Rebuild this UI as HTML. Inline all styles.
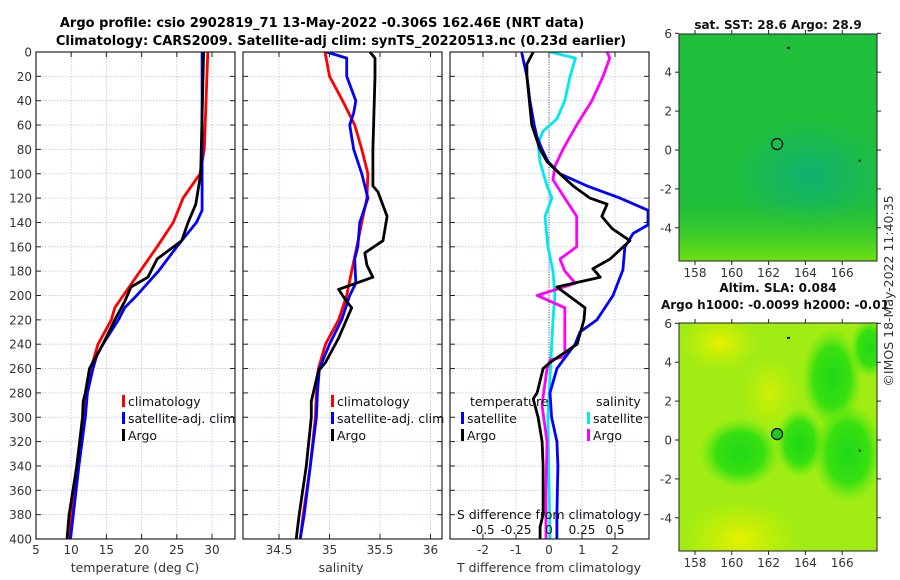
<!DOCTYPE html>
<html><head><meta charset="utf-8"><style>
html,body{margin:0;padding:0;background:#fff}
svg{display:block;font-family:"DejaVu Sans","Liberation Sans",sans-serif}
</style></head><body>
<svg id="chart" width="900" height="580" viewBox="0 0 900 580" xmlns="http://www.w3.org/2000/svg">
<defs>
<radialGradient id="teal" cx="0.5" cy="0.5" r="0.5"><stop offset="0" stop-color="#10b070"/><stop offset="1" stop-color="#10b070" stop-opacity="0"/></radialGradient>
<linearGradient id="botg" x1="0" y1="0" x2="0" y2="1"><stop offset="0" stop-color="#30c828" stop-opacity="0"/><stop offset="1" stop-color="#70e010"/></linearGradient>
<radialGradient id="gblob" cx="0.5" cy="0.5" r="0.5"><stop offset="0" stop-color="#20d818"/><stop offset="0.6" stop-color="#38e010"/><stop offset="1" stop-color="#60e810" stop-opacity="0"/></radialGradient>
<radialGradient id="yblob" cx="0.5" cy="0.5" r="0.5"><stop offset="0" stop-color="#e8f000"/><stop offset="1" stop-color="#d0f000" stop-opacity="0"/></radialGradient>
</defs>
<text x="322" y="27" text-anchor="middle" font-size="13" font-weight="bold">Argo profile: csio 2902819_71 13-May-2022 -0.306S 162.46E (NRT data)</text>
<text x="341" y="45" text-anchor="middle" font-size="13" font-weight="bold">Climatology: CARS2009. Satellite-adj clim: synTS_20220513.nc (0.23d earlier)</text>
<g id="layer"></g>
<text transform="translate(893,291) rotate(-90)" text-anchor="middle" font-size="12.5" fill="#333">©IMOS 18-May-2022 11:40:35</text>
</svg>
<script>
// ---- data ----
const depthTC=[0,80,100,120,140,160,180,200,210,220,240,260,280,300,340,380,400];
const tempClim=[29.4,28.9,28.3,25.9,24.5,22.2,19.8,17.4,16.2,15.7,13.8,12.8,12.1,11.7,10.8,10.0,9.6];
const depthTS=[0,100,130,140,160,180,200,210,220,240,250,260,280,300,340,380,400];
const tempSat=[28.6,28.6,28.6,27.8,25.0,22.4,19.3,17.6,16.7,14.5,13.6,13.1,12.3,12.0,11.1,10.3,9.9];
const depthTA=[0,100,125,140,155,170,185,193,205,220,240,260,280,287,300,340,380,400];
const tempArgo=[28.8,28.4,27.7,26.6,25.7,22.2,20.9,18.5,17.6,16.2,14.5,12.6,12.0,11.7,11.6,10.8,9.7,9.4];
const depthSC=[0,20,40,60,80,100,120,140,160,180,200,220,240,260,280,300,340,380,400];
const salClim=[34.955,35.0,35.13,35.25,35.32,35.38,35.37,35.32,35.27,35.22,35.17,35.09,34.96,34.89,34.87,34.86,34.81,34.74,34.71];
const depthSS=[0,5,20,40,50,60,80,100,120,140,160,170,190,200,220,240,260,280,300,340,380,400];
const salSat=[34.97,35.17,35.17,35.26,35.24,35.2,35.24,35.32,35.38,35.3,35.28,35.25,35.26,35.2,35.12,35.0,34.9,34.88,34.87,34.81,34.75,34.71];
const depthSA=[0,5,20,80,110,115,135,155,165,175,185,195,205,210,235,255,262,287,300,340,380,400];
const salArgo=[35.4,35.45,35.45,35.43,35.43,35.48,35.57,35.53,35.35,35.37,35.43,35.09,35.17,35.22,35.09,34.96,34.89,34.82,34.82,34.77,34.7,34.67];
const depthDT1=[0,20,40,60,70,80,90,100,110,120,130,142,149,160,179,200,220,230,240,260,280,300,320,340,380,400];
const dTsat=[-0.83,-0.67,-0.58,-0.45,-0.36,-0.21,-0.03,0.33,1.15,2.15,3.0,3.0,2.55,2.3,2.24,1.94,1.45,0.94,0.79,0.24,0.03,0.08,0.24,0.27,0.24,0.24];
const depthDT2=[0,10,20,60,80,90,100,110,120,125,135,145,155,170,178,185,193,210,220,240,255,260,280,285,300,320,340,380,390,400];
const dTargo=[-0.48,-0.67,-0.67,-0.52,-0.27,-0.06,0.33,0.73,1.24,1.76,1.6,1.91,2.45,1.85,1.33,1.55,0.24,1.09,1.06,0.85,0.03,-0.18,-0.36,-0.48,-0.33,-0.21,-0.18,-0.18,-0.27,-0.27];
const depthDS1=[0,5,20,40,55,65,75,90,110,120,135,160,180,200,220,300,400];
const dSsat=[0.008,0.2,0.16,0.12,0.06,-0.045,-0.083,-0.068,-0.015,0.023,-0.03,-0.008,0.03,0.045,0.03,-0.008,0.008];
const depthDS2=[0,5,20,40,60,80,94,105,120,135,160,170,180,190,200,210,240,250,253,260,290,320,360,400];
const dSargo=[0.44,0.46,0.41,0.325,0.21,0.105,0.045,0.03,0.12,0.21,0.21,0.083,0.12,0.2,-0.09,0.12,0.12,0.12,0.008,-0.015,-0.053,-0.015,-0.023,-0.023];
const depthTicks=[0,20,40,60,80,100,120,140,160,180,200,220,240,260,280,300,320,340,360,380,400];
const tempTicks=[5,10,15,20,25,30];
const salTicks=[34.5,35,35.5,36];
const dTTicks=[-2,-1,0,1,2];
const dSTicks=[-0.5,-0.25,0,0.25,0.5];
const dSTickLabels=["-0.5","-0.25","0","0.25","0.5"];
const lonTicks=[158,160,162,164,166];
const latTicks=[6,4,2,0,-2,-4];

const NS="http://www.w3.org/2000/svg";
const layer=document.getElementById('layer');
function mk(tag,attrs,parent){const e=document.createElementNS(NS,tag);for(const k in attrs)e.setAttribute(k,attrs[k]);(parent||layer).appendChild(e);return e;}
function txt(x,y,s,size,anchor,parent,fill){const t=mk('text',{x:x,y:y,'font-size':size||12,'text-anchor':anchor||'middle',fill:fill||'#333'},parent);t.textContent=s;return t;}

const T0=52,B0=539;
const yD=d=>T0+(d/400)*(B0-T0);
function panel(x0,x1,xmin,xmax,name){
  const g=mk('g',{});
  
  
  const sx=v=>x0+(v-xmin)/(xmax-xmin)*(x1-x0);
  return {g,sx};
}
function frame(p,x0,x1,xt,leftLabels){
  const g=p.g;
  depthTicks.forEach(d=>{const y=yD(d);
    const l=mk('line',{x1:x0,x2:x1,y1:y,y2:y,stroke:'#b8c4e8','stroke-width':0.8,'stroke-dasharray':'1.5,1.5'},g);
    
    mk('line',{x1:x0,x2:x0+5,y1:y,y2:y,stroke:'#222'},g);
    mk('line',{x1:x1-5,x2:x1,y1:y,y2:y,stroke:'#222'},g);
    if(leftLabels){const t=txt(x0-4,y+4.5,String(d),12,'end',g);}
  });
  xt.forEach(v=>{const x=p.sx(v);
    mk('line',{x1:x,x2:x,y1:T0,y2:B0,stroke:'#b8c4e8','stroke-width':0.8,'stroke-dasharray':'1.5,1.5'},g);
    mk('line',{x1:x,x2:x,y1:T0,y2:T0+5,stroke:'#222'},g);
    mk('line',{x1:x,x2:x,y1:B0-5,y2:B0,stroke:'#222'},g);
    const t=txt(x,B0+15,String(v),12,'middle',g);
  });
}
function series(p,xs,ds,color,name,w){
  const pts=xs.map((v,i)=>p.sx(v).toFixed(1)+','+yD(ds[i]).toFixed(1)).join(' ');
  const l=mk('polyline',{points:pts,fill:'none',stroke:color,'stroke-width':w||2.8,'stroke-linejoin':'round'},p.g);
  
}
function border(p,x0,x1){mk('rect',{x:x0,y:T0,width:x1-x0,height:B0-T0,fill:'none',stroke:'#222','stroke-width':1.2},p.g);}
function legItem(g,x,y,color,label){
  mk('rect',{x:x,y:y-10,width:3,height:12,fill:color},g);
  const t=txt(x+6,y+1,label,12.5,'start',g,'#111');
  
}

const clipDef=mk('defs',{});
[['c1',36,235],['c2',243,442],['c3',450,649]].forEach(c=>{const cp=mk('clipPath',{id:c[0]},clipDef);mk('rect',{x:c[1],y:T0,width:c[2]-c[1],height:B0-T0},cp);});

// Panel 1 temperature
const p1=panel(36,235,5,5+199/7.04,'temperature-panel');
frame(p1,36,235,tempTicks,true);
const g1=mk('g',{'clip-path':'url(#c1)'},p1.g);
const pp1={g:g1,sx:p1.sx};
series(pp1,tempClim,depthTC,'#ff0000','temp-climatology-line');
series(pp1,tempSat,depthTS,'#0000ff','temp-satellite-line');
series(pp1,tempArgo,depthTA,'#000','temp-argo-line');
border(p1,36,235);
txt(135,572,'temperature (deg C)',12.5,'middle',p1.g);
const lg1=mk('g',{},p1.g);
legItem(lg1,122,405,'#ff0000','climatology');legItem(lg1,122,422,'#0000ff','satellite-adj. clim');legItem(lg1,122,439,'#000','Argo');

// Panel 2 salinity
const p2=panel(243,442,34.5-36/101,34.5+163/101,'salinity-panel');
frame(p2,243,442,salTicks,false);
const g2=mk('g',{'clip-path':'url(#c2)'},p2.g);
const pp2={g:g2,sx:p2.sx};
series(pp2,salClim,depthSC,'#ff0000','sal-climatology-line');
series(pp2,salSat,depthSS,'#0000ff','sal-satellite-line');
series(pp2,salArgo,depthSA,'#000','sal-argo-line');
border(p2,243,442);
txt(341,572,'salinity',12.5,'middle',p2.g);
const lg2=mk('g',{},p2.g);
legItem(lg2,331,405,'#ff0000','climatology');legItem(lg2,331,422,'#0000ff','satellite-adj. clim');legItem(lg2,331,439,'#000','Argo');

// Panel 3 differences
const p3=panel(450,649,-3,3.03,'difference-panel');
frame(p3,450,649,dTTicks,false);
mk('line',{x1:p3.sx(0),x2:p3.sx(0),y1:T0,y2:B0,stroke:'#555','stroke-width':1,'stroke-dasharray':'1,1.5'},p3.g);
const g3=mk('g',{'clip-path':'url(#c3)'},p3.g);
const pp3={g:g3,sx:p3.sx};
const sxS={g:g3,sx:v=>p3.sx(v*4)};
series(sxS,dSsat,depthDS1,'#00e8f0','sal-diff-satellite-line');
series(sxS,dSargo,depthDS2,'#ff00ff','sal-diff-argo-line');
series(pp3,dTsat,depthDT1,'#0000ff','temp-diff-satellite-line');
series(pp3,dTargo,depthDT2,'#000','temp-diff-argo-line');
border(p3,450,649);
txt(549,519,'S difference from climatology',12.5,'middle',p3.g,'#111');
dSTicks.forEach((v,i)=>{const t=txt(p3.sx(v*4),534,dSTickLabels[i],12,'middle',p3.g,'#111');});
txt(549,572,'T difference from climatology',12.5,'middle',p3.g);
const lg3=mk('g',{},p3.g);
txt(470,406,'temperature',12.5,'start',lg3,'#111');
legItem(lg3,461,422,'#0000ff','satellite');legItem(lg3,461,439,'#000','Argo');
txt(596,406,'salinity',12.5,'start',lg3,'#111');
legItem(lg3,587,422,'#00e8f0','satellite');legItem(lg3,587,439,'#ff00ff','Argo');

// Maps
function map(top,bottom,name,kind,title1,title2){
  const g=mk('g',{});
  const L=679,R=877;
  const sx=lon=>695+(lon-158)*18.4;
  const lat0=top+ (kind==='sst'?116:117);
  const sy=lat=>lat0-lat*19.45;
  const cp=mk('clipPath',{id:'clip'+kind},clipDef);mk('rect',{x:L,y:top,width:R-L,height:bottom-top},cp);
  const f=mk('g',{'clip-path':'url(#clip'+kind+')'},g);
  if(kind==='sst'){
    mk('rect',{x:L,y:top,width:R-L,height:bottom-top,fill:'#26c438'},f);
    mk('rect',{x:L,y:top,width:R-L,height:bottom-top,fill:'#10b048',opacity:0.25},f);
    mk('ellipse',{cx:810,cy:175,rx:80,ry:55,fill:'url(#teal)'},f);
    mk('rect',{x:L,y:bottom-60,width:R-L,height:60,fill:'url(#botg)'},f);
  } else {
    mk('rect',{x:L,y:top,width:R-L,height:bottom-top,fill:'#a0ec14'},f);
    mk('ellipse',{cx:720,cy:top+20,rx:40,ry:30,fill:'url(#yblob)'},f);
    mk('ellipse',{cx:740,cy:bottom-12,rx:60,ry:40,fill:'url(#yblob)'},f);
    mk('ellipse',{cx:770,cy:top+70,rx:30,ry:40,fill:'url(#yblob)',opacity:0.7},f);
    mk('ellipse',{cx:740,cy:top+130,rx:40,ry:35,fill:'url(#gblob)'},f);
    mk('ellipse',{cx:800,cy:top+120,rx:25,ry:35,fill:'url(#gblob)'},f);
    mk('ellipse',{cx:832,cy:top+55,rx:30,ry:50,fill:'url(#gblob)'},f);
    mk('ellipse',{cx:848,cy:top+130,rx:35,ry:50,fill:'url(#gblob)'},f);
    mk('ellipse',{cx:870,cy:top+25,rx:20,ry:30,fill:'url(#gblob)'},f);
  }
  mk('rect',{x:L,y:top,width:R-L,height:bottom-top,fill:'none',stroke:'#222','stroke-width':1},g);
  lonTicks.forEach(v=>{const x=sx(v);mk('line',{x1:x,x2:x,y1:bottom,y2:bottom+4,stroke:'#222'},g);mk('line',{x1:x,x2:x,y1:top-4,y2:top,stroke:'#222'},g);
    const t=txt(x,bottom+16,String(v),12,'middle',g);});
  latTicks.forEach(v=>{const y=sy(v);mk('line',{x1:L-4,x2:L,y1:y,y2:y,stroke:'#222'},g);mk('line',{x1:R,x2:R+4,y1:y,y2:y,stroke:'#222'},g);
    const t=txt(L-7,y+4.5,String(v),12,'end',g);});
  const c=mk('circle',{cx:sx(162.46),cy:sy(0.306),r:5.5,fill:kind==='sst'?'none':'#20c820',stroke:'#111','stroke-width':1.3},g);
  
  mk('rect',{x:sx(163),y:sy(5.3),width:3,height:2,fill:'#111'},g);
  mk('rect',{x:sx(166.9),y:sy(-0.5),width:2,height:2,fill:'#111'},g);
  const t1=txt(778,top-(title2?31:5),title1,12,'middle',g,'#111');t1.setAttribute('font-weight','bold');
  if(title2){const t2=txt(775,top-14,title2,12,'middle',g,'#111');t2.setAttribute('font-weight','bold');}
}
map(34,261,'sst-map','sst','sat. SST: 28.6 Argo: 28.9',null);
map(323,551,'sla-map','sla','Altim. SLA: 0.084','Argo h1000: -0.0099 h2000: -0.01');
</script>
</body></html>
